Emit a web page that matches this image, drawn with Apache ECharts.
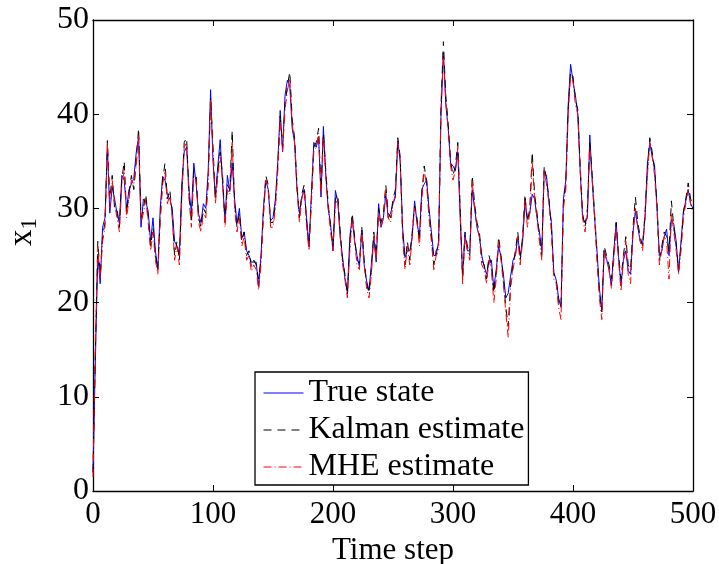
<!DOCTYPE html>
<html lang="en">
<head>
    <meta charset="UTF-8">
    <title>x1 estimates</title>
    <script src="https://cdn.jsdelivr.net/npm/echarts/dist/echarts.min.js"></script>
    <style>
        html, body { margin: 0; padding: 0; background: #fff; }
        #chart { width: 719px; height: 564px; }
    </style>
</head>
<body>
    <div id="chart"></div>

    <script>
        // one value every 2 time steps, 0..500
        var trueState = [
            2, 14, 25, 22, 28, 29, 36.5, 29.5, 32.3, 31,
            29.5, 28.4, 33.5, 33, 30, 32, 32.6, 33.2, 35.9, 37.6,
            28, 31, 30.7, 29.7, 26.5, 29, 25.5, 23.5, 30, 33.4,
            33, 31.5, 31, 30, 26.5, 26, 25, 32.6, 36, 36.5,
            32, 29.5, 34.8, 32.5, 29.4, 28.5, 30.5, 30, 34, 42.6,
            35, 31.2, 34.5, 37.3, 32.6, 28.7, 33.5, 31.8, 34.8, 31,
            28.4, 30, 26.8, 27.5, 25.5, 25, 24.3, 24.3, 24.3, 21.7,
            25, 30, 33, 32, 28.7, 29, 31, 35, 40.4, 36,
            42, 43.6, 43, 38.5, 37, 32, 29.5, 31.2, 32, 29,
            25.9, 31.5, 37, 36.5, 37.5, 31.2, 38.7, 33.5, 30, 28.3,
            25.5, 31.9, 30.7, 27, 24.8, 22.5, 21, 27, 29, 26.5,
            25, 23.8, 27.7, 24, 22.3, 21.3, 24.1, 27, 24.3, 30.5,
            28, 29, 31.5, 29, 29.5, 30.5, 31.2, 37.2, 35, 28,
            24.8, 25.5, 25.5, 27, 30.8, 28.5, 27, 32, 32.6, 33,
            30, 27.5, 25, 25, 26.5, 40, 46.5, 41, 38.5, 34.8,
            34.5, 34, 36, 29, 23, 27.2, 25.5, 25.5, 32, 30,
            28, 27, 25, 23.8, 23, 24.5, 24.5, 21.5, 23.5, 26,
            24.8, 23, 20.5, 21, 22.8, 24.5, 25, 27, 25, 26.5,
            30.8, 29, 29.5, 31.5, 31, 29, 27.5, 25.5, 34, 33.4,
            30.6, 28.5, 23.2, 22.4, 20.5, 19.5, 31, 33, 41, 45.3,
            43.5, 42, 40, 34, 29, 28.5, 29, 37.8, 33, 29,
            25.5, 21.5, 19.2, 25.5, 24.6, 23.5, 21.8, 25.5, 28.5, 24.8,
            21.8, 24.5, 25.5, 23.4, 23, 27.5, 29.7, 28, 26.5, 26.2,
            29, 34.8, 37, 35.5, 34.5, 30, 25, 25.5, 27, 27.8,
            25, 28.8, 28.3, 26.5, 23.2, 26.5, 29.7, 30.8, 32, 30.5,
            30
        ];

        var kalmanEstimate = [
            2, 15, 26.5, 23, 27, 28.5, 37.2, 31, 33.5, 30,
            30, 28, 33, 35, 29.5, 31.5, 33.5, 32, 35, 38.5,
            29, 30, 31.5, 29, 26, 28, 25, 23.5, 29, 33,
            34.8, 31, 32, 29.5, 25, 26.5, 24.5, 31.5, 37, 37.5,
            31.5, 28.5, 34, 33.5, 29, 28, 30, 29.5, 33, 41.8,
            36.5, 31, 34, 36, 33.5, 28.5, 32.5, 32, 38.3, 30.5,
            28, 29.5, 26.5, 27.5, 25, 25.5, 23.8, 24.5, 24, 22.5,
            24.5, 29.5, 33.5, 32.5, 28.5, 28.5, 30.5, 34.5, 39.8, 36.5,
            41, 43, 44.5, 39.5, 37.5, 32.5, 29, 31.5, 32.5, 28.5,
            26, 31, 36.5, 37, 38.5, 32, 38, 34, 30.5, 28,
            26, 31, 31.5, 27.5, 24.5, 23, 20.8, 26, 29.5, 27,
            24.5, 24.2, 28, 24.5, 22, 21, 23.5, 27.5, 25, 30,
            28.5, 29.5, 32.5, 29.5, 29, 31, 32, 37.5, 35.5, 27.5,
            24, 26.5, 24.5, 27.5, 30.3, 29, 26.5, 31.5, 34.5, 33,
            29.5, 27, 24, 25.5, 26, 41, 47.7, 42, 39, 35,
            33.5, 34.5, 37, 30, 22.5, 27.5, 26, 25, 33.5, 30.5,
            28.5, 27.5, 24.5, 24, 22.5, 25, 24, 21, 23, 27,
            25, 22.5, 19.5, 17.5, 22, 24, 25.5, 27.5, 24.5, 27,
            31.5, 28.5, 30, 36, 31.5, 29.5, 27, 25, 34.5, 33,
            31, 28, 23, 22.5, 20, 19.5, 30.5, 32.5, 40.5, 44.5,
            44, 41.5, 40.5, 34.5, 29.5, 28, 30, 37, 33.5, 29.5,
            25, 21, 19, 26, 25, 24, 22.5, 25, 28.5, 25,
            22.5, 25, 27, 24, 23.5, 28, 31.2, 28.5, 27, 26,
            29.5, 34, 37.5, 36, 34, 30.5, 24.5, 26, 27.5, 27,
            25.5, 30.8, 28, 26, 23.5, 26, 29.5, 31, 32.7, 31,
            30.5
        ];

        var mheEstimate = [
            1.5, 16, 26, 22.5, 26.5, 28, 37, 30, 33, 30.5,
            29, 27.5, 32.5, 34, 29, 31, 33, 32.5, 34.5, 37.8,
            28.5, 29.5, 31, 28.5, 25.5, 27.5, 24.5, 23, 28.5, 32.5,
            34, 30.5, 31.5, 29, 24.5, 26, 24, 31, 36.5, 37,
            31, 28, 33.5, 33, 28.5, 27.5, 29.5, 29, 32.5, 41.5,
            36, 30.5, 33.5, 35.5, 33, 28, 32, 31.5, 37, 30,
            27.5, 29, 26, 27, 24.5, 25, 23.3, 24, 23.5, 21.3,
            24, 29, 33, 32, 28, 28, 30, 34, 39.5, 36,
            40.5, 42.5, 43.8, 39, 37, 32, 28.5, 31, 32, 28,
            25.5, 30.5, 36, 36.5, 38, 31.5, 37.5, 33.5, 30, 27.5,
            25.5, 30.5, 31, 27, 24, 22.5, 20.5, 25.5, 29, 26.5,
            24, 23.5, 27.5, 24, 21.5, 20.5, 23, 27, 24.5, 29.5,
            28, 29, 32, 29, 28.5, 30.5, 31.5, 37, 35, 27,
            23.5, 26, 24, 27, 30, 28.5, 26, 31, 34, 32.5,
            29, 26.5, 23.5, 25, 25.5, 40.5, 46.3, 41.5, 38.5, 34.5,
            33, 34, 36.5, 29.5, 22, 27, 25.5, 24.5, 33, 30,
            28, 27, 24, 23.5, 22, 24.5, 23.5, 20, 22.5, 26.5,
            24.5, 22, 19, 16.3, 21.5, 23.5, 25, 27, 24, 26.5,
            31, 28, 29.5, 35, 31, 29, 26.5, 24.5, 34, 32.5,
            30.5, 27.5, 22.5, 22, 19.5, 18.2, 30, 32, 40, 44,
            43.5, 41, 40, 34, 29, 27.5, 29.5, 36.5, 33, 29,
            24.5, 20.5, 18.2, 25.5, 24.5, 23.5, 21.5, 24.5, 28, 24.5,
            21.2, 24.5, 26.5, 23, 22, 27.5, 30, 28, 26.5, 25.5,
            29, 33.5, 37, 35.5, 33.5, 30, 24, 25.5, 27, 26.5,
            22.5, 29.5, 27.5, 25.5, 23, 25.5, 29, 30.5, 32, 30.5,
            29.5
        ];

        var timeSteps = trueState.map(function (v, i) { return i * 2; });

        function pairs(values) {
            return values.map(function (v, i) { return [timeSteps[i], v]; });
        }

        var font = 'Liberation Serif';
        var myChart = echarts.init(document.getElementById('chart'));

        var hiddenAxis = {
            axisLine: { show: true, onZero: false, lineStyle: { color: '#000', width: 1.3 } },
            axisTick: { show: true, inside: true, length: 6, lineStyle: { color: '#000' } },
            axisLabel: { show: false },
            splitLine: { show: false }
        };

        var option = {
            animation: false,
            backgroundColor: '#fff',
            grid: { left: 93, right: 26, top: 20, bottom: 73, outerBoundsMode: 'none', containLabel: false },
            legend: {
                orient: 'vertical',
                left: 255,
                top: 372,
                padding: [5, 4, 2, 8],
                itemWidth: 40,
                itemHeight: 14,
                itemGap: 5,
                borderColor: '#000',
                borderWidth: 1.3,
                borderRadius: 0,
                backgroundColor: '#fff',
                itemStyle: { opacity: 0 },
                lineStyle: { width: 1 },
                textStyle: { fontFamily: font, fontSize: 32, lineHeight: 32, color: '#000' }
            },
            xAxis: [
                {
                    type: 'value', min: 0, max: 500, interval: 100,
                    name: 'Time step', nameLocation: 'middle', nameGap: 35,
                    nameTextStyle: { fontFamily: font, fontSize: 31, color: '#000' },
                    axisLine: { onZero: false, lineStyle: { color: '#000', width: 1.3 } },
                    axisTick: { inside: true, length: 6, lineStyle: { color: '#000' } },
                    axisLabel: { fontFamily: font, fontSize: 31, color: '#000', margin: 8 },
                    splitLine: { show: false }
                },
                Object.assign({ type: 'value', min: 0, max: 500, interval: 100, position: 'top' }, hiddenAxis)
            ],
            yAxis: [
                {
                    type: 'value', min: 0, max: 50, interval: 10,
                    axisLine: { show: true, onZero: false, lineStyle: { color: '#000', width: 1.3 } },
                    axisTick: { show: true, inside: true, length: 6, lineStyle: { color: '#000' } },
                    axisLabel: { fontFamily: font, fontSize: 32, color: '#000', margin: 4 },
                    splitLine: { show: false }
                },
                Object.assign({ type: 'value', min: 0, max: 50, interval: 10, position: 'right' }, hiddenAxis)
            ],
            graphic: [
                {
                    type: 'text',
                    x: 22,
                    y: 232,
                    rotation: Math.PI / 2,
                    style: {
                        text: '{a|x}{b|1}',
                        align: 'center',
                        verticalAlign: 'middle',
                        fill: '#000',
                        rich: {
                            a: { fontFamily: font, fontSize: 33, lineHeight: 38, verticalAlign: 'middle', fill: '#000' },
                            b: { fontFamily: font, fontSize: 23, lineHeight: 21, verticalAlign: 'bottom', fill: '#000' }
                        }
                    }
                }
            ],
            series: [
                {
                    name: 'True state',
                    type: 'line',
                    symbol: 'none',
                    data: pairs(trueState),
                    itemStyle: { color: '#0000ff' },
                    lineStyle: { color: '#0000ff', width: 1 }
                },
                {
                    name: 'Kalman estimate',
                    type: 'line',
                    symbol: 'none',
                    data: pairs(kalmanEstimate),
                    itemStyle: { color: '#000' },
                    lineStyle: { color: '#000', width: 1, type: [8, 6] }
                },
                {
                    name: 'MHE estimate',
                    type: 'line',
                    symbol: 'none',
                    data: pairs(mheEstimate),
                    itemStyle: { color: '#ff0000' },
                    lineStyle: { color: '#ff0000', width: 1, type: [8, 3, 1, 3] }
                }
            ]
        };

        myChart.setOption(option);
    </script>
</body>
</html>
